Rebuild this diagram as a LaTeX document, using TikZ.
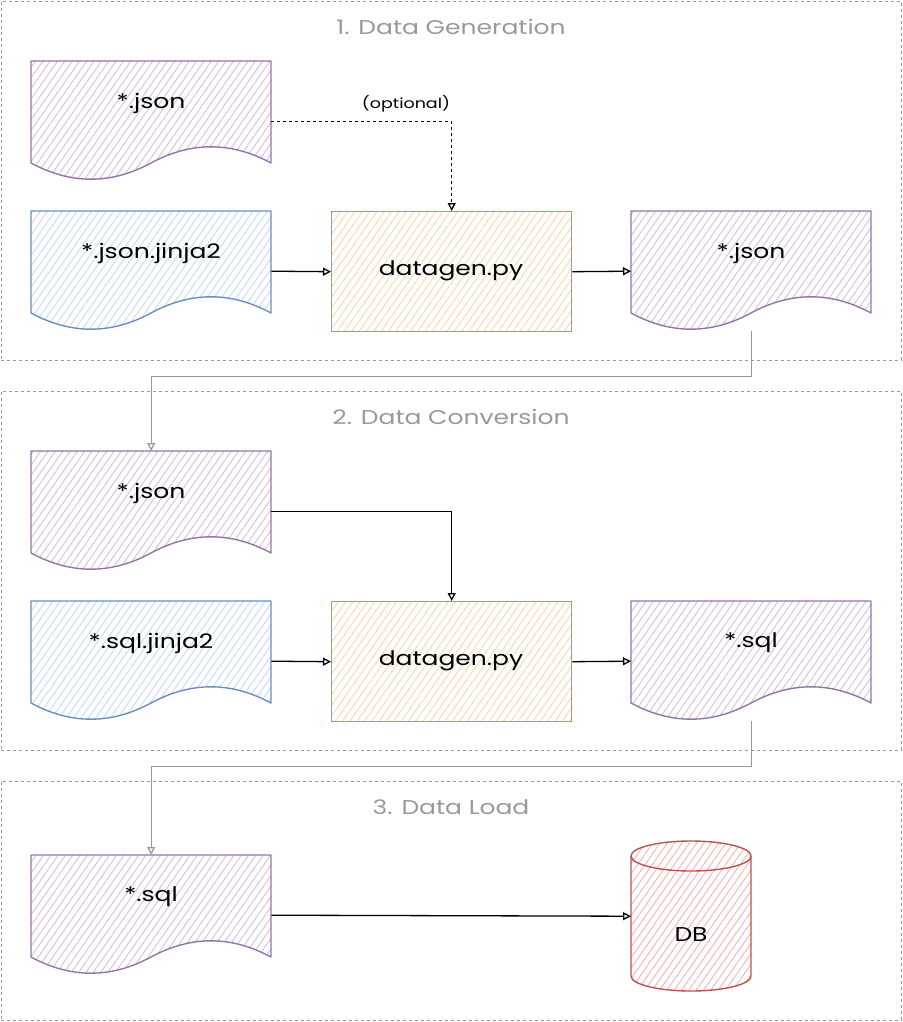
\documentclass[tikz,border=0pt]{standalone}
\usepackage{fontspec}
\setmainfont[FakeStretch=1.25]{Poppins}
\usetikzlibrary{arrows.meta,patterns.meta}
\definecolor{hpurple}{HTML}{D5C3DF}
\definecolor{spurple}{HTML}{9673A6}
\definecolor{hblue}{HTML}{CADCF5}
\definecolor{sblue}{HTML}{6C8EBF}
\definecolor{horange}{HTML}{FFD9B3}
\definecolor{sorange}{HTML}{D79B00}
\definecolor{hred}{HTML}{F3BAB8}
\definecolor{sred}{HTML}{B85450}
\definecolor{gline}{HTML}{999999}
\tikzset{
  container/.style={draw=gline, dashed, line width=0.9pt, rectangle, anchor=north west, inner sep=0pt},
  ctitle/.style={text=gline, font=\fontsize{20}{23}\selectfont},
  docbox/.style={rectangle, draw=none, anchor=north west, minimum width=240pt, minimum height=120pt, inner sep=0pt},
  lbl/.style={font=\fontsize{20}{23}\selectfont, text=black, inner sep=0pt},
  hatch/.style={pattern={Lines[angle=55,distance=6pt,line width=1pt]}, pattern color=#1},
  conn/.style={draw=black, line width=1.3pt, -{Triangle[open,length=8pt,width=8pt]}},
  gconn/.style={draw=gline, line width=1.3pt, -{Triangle[open,length=8pt,width=8pt]}},
}
\newcommand{\docshape}[6]{%
  \node[docbox] (#1) at (#2,#3) {};
  \begin{scope}[shift={(#2,#3)}]
    \path[hatch=#4, draw=#5, line width=1.4pt, line join=round]
      (0,0) -- (240,0) -- (240,102) .. controls (200,80.4) and (160,80.4) .. (120,102)
      .. controls (80,123.6) and (40,123.6) .. (0,102) -- cycle;
  \end{scope}
  \node[lbl] (#1-t) at ({#2+120},{#3+42}) {#6};
}
\begin{document}
\begin{tikzpicture}[x=1pt,y=-1pt]
\useasboundingbox (0,0) rectangle (902,1022);
% containers
\node[container, minimum width=900pt, minimum height=359pt] (c1) at (1,1) {};
\node[container, minimum width=900pt, minimum height=359pt] (c2) at (1,391) {};
\node[container, minimum width=900pt, minimum height=239pt] (c3) at (1,781) {};
\node[ctitle] (t1) at (451,27) {1. Data Generation};
\node[ctitle] (t2) at (451,417) {2. Data Conversion};
\node[ctitle] (t3) at (451,807) {3. Data Load};

% section 1
\docshape{a1}{31}{61}{hpurple}{spurple}{*.json}
\docshape{a2}{31}{211}{hblue}{sblue}{*.json.jinja2}
\node[rectangle, anchor=north west, minimum width=240pt, minimum height=120pt, inner sep=0pt,
  draw=sorange, line width=1.4pt, hatch=horange] (g1) at (331,211) {};
\node[lbl] (g1-t) at (451,271) {datagen.py};
\docshape{a3}{631}{211}{hpurple}{spurple}{*.json}

% section 2
\docshape{b1}{31}{451}{hpurple}{spurple}{*.json}
\docshape{b2}{31}{601}{hblue}{sblue}{*.sql.jinja2}
\node[rectangle, anchor=north west, minimum width=240pt, minimum height=120pt, inner sep=0pt,
  draw=sorange, line width=1.4pt, hatch=horange] (g2) at (331,601) {};
\node[lbl] (g2-t) at (451,661) {datagen.py};
\docshape{b3}{631}{601}{hpurple}{spurple}{*.sql}

% section 3
\docshape{l1}{31}{855}{hpurple}{spurple}{*.sql}
\node[rectangle, anchor=north west, minimum width=120pt, minimum height=150pt, inner sep=0pt] (db) at (631,841) {};
\path[hatch=hred, draw=sred, line width=1.4pt]
  (631,856) -- (631,976) arc[start angle=180, end angle=360, x radius=60pt, y radius=15pt]
  -- (751,856) arc[start angle=0, end angle=180, x radius=60pt, y radius=15pt] -- cycle;
\draw[sred, line width=1.4pt] (631,856) arc[start angle=180, end angle=360, x radius=60pt, y radius=15pt];
\node[lbl] (db-t) at (691,935) {DB};

% connectors section 1
\draw[conn, dashed] (a1.east) -| (g1.north);
\node[font=\fontsize{14}{16}\selectfont, inner sep=0pt] (opt) at (406,104) {(optional)};
\draw[conn] (a2.east) -- (g1.west);
\draw[conn] (g1.east) -- (a3.west);
\draw[gconn] (a3.south) -- ++(0,45) -| (b1.north);

% connectors section 2
\draw[conn] (b1.east) -| (g2.north);
\draw[conn] (b2.east) -- (g2.west);
\draw[conn] (g2.east) -- (b3.west);
\draw[gconn] (b3.south) -- ++(0,45) -| (l1.north);

% connectors section 3
\draw[conn] (l1.east) -- (db.west);
\end{tikzpicture}
\end{document}
